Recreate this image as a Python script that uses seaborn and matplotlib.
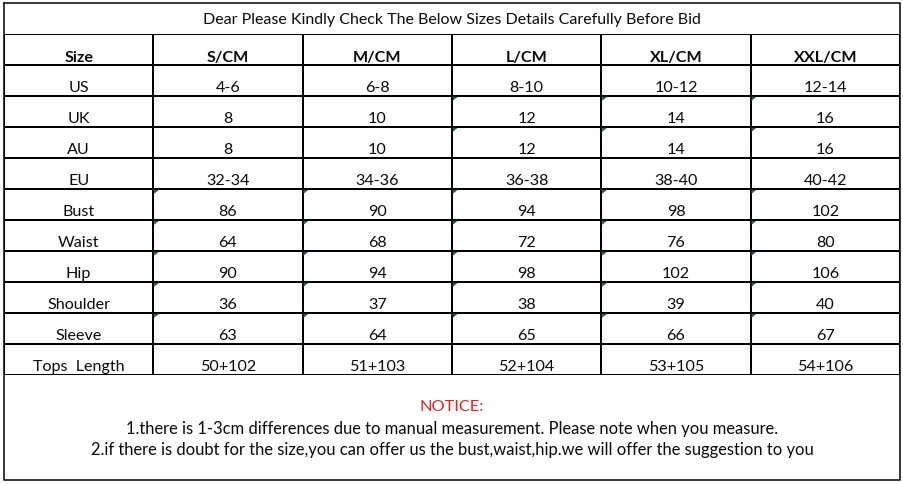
import numpy as np
import pandas as pd
import matplotlib
matplotlib.use("Agg")
import matplotlib.pyplot as plt
from matplotlib.colors import ListedColormap
import seaborn as sns

# ---------------- data ----------------
title = "Dear Please Kindly Check The Below Sizes Details Carefully Before Bid"
header = ["Size", "S/CM", "M/CM", "L/CM", "XL/CM", "XXL/CM"]
row_names = ["US", "UK", "AU", "EU", "Bust", "Waist", "Hip", "Shoulder", "Sleeve", "Tops  Length"]
us = ["4-6", "6-8", "8-10", "10-12", "12-14"]
uk = ["8", "10", "12", "14", "16"]
au = ["8", "10", "12", "14", "16"]
eu = ["32-34", "34-36", "36-38", "38-40", "40-42"]
bust = ["86", "90", "94", "98", "102"]
waist = ["64", "68", "72", "76", "80"]
hip = ["90", "94", "98", "102", "106"]
shoulder = ["36", "37", "38", "39", "40"]
sleeve = ["63", "64", "65", "66", "67"]
tops_length = ["50+102", "51+103", "52+104", "53+105", "54+106"]
# cells flagged with Excel's green "number stored as text" marker (1 = flagged)
flags = [
    [0, 0, 0, 0, 0],
    [0, 0, 1, 1, 1],
    [0, 0, 1, 1, 1],
    [0, 0, 0, 0, 0],
    [1, 1, 1, 1, 1],
    [1, 1, 1, 1, 1],
    [1, 1, 1, 1, 1],
    [1, 1, 1, 1, 1],
    [1, 1, 1, 1, 1],
    [0, 0, 0, 0, 0],
]
notice_title = "NOTICE:"
notice_lines = [
    "1.there is 1-3cm differences due to manual measurement. Please note when you measure.",
    "2.if there is doubt for the size,you can offer us the bust,waist,hip.we will offer the suggestion to you",
]

# ---------------- layout ----------------
W, H = 904, 485
left, right = 4, 900
top, title_bottom = 4, 35
grid_bottom, bottom = 376, 481

sns.set_theme(style="white")
plt.rcParams["font.family"] = ["Lato", "DejaVu Sans"]

body = [us, uk, au, eu, bust, waist, hip, shoulder, sleeve, tops_length]
table = [header] + [[n] + v for n, v in zip(row_names, body)]
labels = np.array(table, dtype=object)
nrows, ncols = labels.shape

fig = plt.figure(figsize=(W / 100, H / 100), dpi=100)
fig.patch.set_facecolor("white")

# grid via seaborn heatmap
gax = fig.add_axes([left / W, 1 - grid_bottom / H, (right - left) / W, (grid_bottom - title_bottom) / H])
sns.heatmap(
    np.zeros((nrows, ncols)),
    ax=gax,
    cmap=ListedColormap(["white"]),
    cbar=False,
    linewidths=1.1,
    linecolor="black",
    annot=labels,
    fmt="",
    annot_kws={"fontsize": 11.6, "color": "#0a0a0a"},
    xticklabels=False,
    yticklabels=False,
)
for t in gax.texts:
    x, y = t.get_position()
    if y < 1:
        t.set_fontweight("bold")
        t.set_position((x, y + 0.25))
    else:
        t.set_position((x, y + 0.2))

# overlay axes in pixel coordinates (on top of the heatmap)
ov = fig.add_axes([0, 0, 1, 1])
ov.set_xlim(0, W)
ov.set_ylim(H, 0)
ov.axis("off")
ov.patch.set_alpha(0)

# green flags
cw = (right - left) / ncols
rh = (grid_bottom - title_bottom) / nrows
for i, frow in enumerate(flags):
    for j, f in enumerate(frow):
        if f:
            x0 = left + (j + 1) * cw + 0.8
            y0 = title_bottom + (i + 1) * rh + 0.8
            ov.fill([x0, x0 + 5, x0], [y0, y0, y0 + 4], color="#1e6b28", lw=0)

# outer border and merged rows
ov.plot([left, right, right, left, left], [top, top, bottom, bottom, top], color="black", lw=1.1)
ov.text((left + right) / 2, (top + title_bottom) / 2 + 0.5, title, ha="center", va="center",
        fontsize=11.5, color="#0a0a0a")

ov.text((left + right) / 2, 407, notice_title, ha="center", va="center", fontsize=11.8, color="#e02222")
ov.text((left + right) / 2, 429, notice_lines[0], ha="center", va="center", fontsize=11.9, color="#0a0a0a")
ov.text((left + right) / 2, 450, notice_lines[1], ha="center", va="center", fontsize=11.9, color="#0a0a0a")

fig.savefig("out.png", dpi=100, facecolor="white")
